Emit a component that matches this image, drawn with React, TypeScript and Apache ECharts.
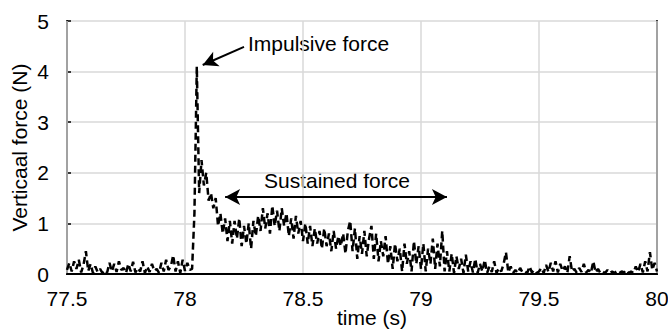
import React, { useEffect, useRef } from "react";
import * as echarts from "echarts";

const startTime = 77.5;
const timeStep = 0.01;

const baselineBefore = [
  0.08, 0.22, 0.05, 0.25, 0.1, 0.28, 0.03, 0.18, 0.45, 0.06,
  0.2, 0.02, 0.15, 0.04, 0.1, 0.02, 0.08, 0.03, 0.22, 0.05,
  0.2, 0.04, 0.25, 0.08, 0.12, 0.02, 0.2, 0.05, 0.24, 0.03,
  0.12, 0.05, 0.25, 0.02, 0.15, 0.04, 0.2, 0.06, 0.1, 0.02,
  0.22, 0.05, 0.28, 0.08, 0.15, 0.37, 0.05, 0.25, 0.02, 0.28,
  0.06, 0.22, 0.08, 0.1,
];

const impulseValues = [
  1.2, 4.1, 1.6, 2.25, 1.75, 2.0, 1.45, 1.6, 1.3, 1.5,
  0.95, 1.2, 0.8, 1.1, 0.65, 1.05,
];

const sustainedValues = [
  0.6, 1.05, 0.7, 1.1, 0.55, 0.95, 0.6, 1.0, 0.5, 1.05,
  0.75, 1.15, 0.85, 1.3, 0.9, 1.2, 0.8, 1.35, 0.95, 1.25,
  0.85, 1.3, 0.95, 1.2, 0.75, 1.1, 0.7, 1.15, 0.8, 1.05,
  0.65, 1.0, 0.6, 0.95, 0.55, 0.9, 0.6, 0.85, 0.5, 0.9,
  0.55, 0.8, 0.45, 0.85, 0.5, 0.75, 0.55, 0.8, 0.4, 0.85,
  1.05, 0.45, 0.9, 0.3, 0.75, 0.4, 0.85, 0.35, 0.7, 0.95,
  0.3, 0.8, 0.25, 0.65, 0.35, 0.75, 0.2, 0.55, 0.1, 0.6,
  0.25, 0.5, 0.05, 0.6, 0.2, 0.45, 0.05, 0.65, 0.2, 0.55,
  0.1, 0.6, 0.05, 0.5, 0.2, 0.7, 0.1, 0.6, 0.15, 0.85,
];

const baselineAfter = [
  0.05, 0.45, 0.05, 0.4, 0.02, 0.35, 0.1, 0.3, 0.02, 0.38,
  0.05, 0.25, 0.03, 0.3, 0.02, 0.2, 0.05, 0.28, 0.02, 0.15,
  0.04, 0.25, 0.02, 0.12, 0.05, 0.2, 0.43, 0.03, 0.15, 0.02,
  0.08, 0.02, 0.12, 0.03, 0.05, 0.02, 0.15, 0.03, 0.08, 0.02,
  0.05, 0.12, 0.02, 0.18, 0.04, 0.22, 0.05, 0.25, 0.03, 0.2,
  0.06, 0.15, 0.02, 0.35, 0.05, 0.1, 0.02, 0.12, 0.04, 0.2,
  0.03, 0.08, 0.02, 0.25, 0.03, 0.1, 0.02, 0.05, 0.02, 0.08,
  0.02, 0.05, 0.02, 0.06, 0.02, 0.05, 0.03, 0.08, 0.02, 0.05,
  0.02, 0.15, 0.04, 0.2, 0.03, 0.25, 0.05, 0.43, 0.08, 0.22,
  0.05,
];

const forceValues = [...baselineBefore, ...impulseValues, ...sustainedValues, ...baselineAfter];

const xTicks = { min: 77.5, max: 80, interval: 0.5 };
const yTicks = { min: 0, max: 5, interval: 1 };

const impulsiveArrow = { from: [78.25, 4.49], to: [78.075, 4.13] };
const sustainedArrow = { from: [78.17, 1.52], to: [79.11, 1.52] };

const FONT = "'Liberation Sans', Arial, Helvetica, sans-serif";
const FS = 21;

export default function App() {
  const ref = useRef<HTMLDivElement>(null);
  useEffect(() => {
    document.body.style.margin = "0";
    if (!ref.current) return;
    const chart = echarts.init(ref.current, null, { renderer: "svg" });
    const data = forceValues.map((v, i) => [
      Math.round((startTime + i * timeStep) * 1000) / 1000,
      v,
    ]);
    const frameAxis = {
      type: "value",
      axisLine: { show: true, lineStyle: { color: "#000", width: 2 } },
      axisTick: { show: false },
      axisLabel: { show: false },
      splitLine: { show: false },
    };
    chart.setOption({
      animation: false,
      grid: {
        left: 67,
        right: 11,
        top: 21,
        bottom: 55,
        outerBoundsMode: "none",
        containLabel: false,
      },
      xAxis: [
        {
          type: "value",
          min: xTicks.min,
          max: xTicks.max,
          interval: xTicks.interval,
          name: "time (s)",
          nameLocation: "middle",
          nameGap: 33,
          nameMoveOverlap: false,
          nameTextStyle: {
            fontFamily: FONT,
            fontSize: FS,
            color: "#000",
            padding: [0, 0, 0, 20],
          },
          axisLine: { show: true, lineStyle: { color: "#000", width: 2 } },
          axisTick: { show: false },
          axisLabel: { fontFamily: FONT, fontSize: FS, color: "#000", margin: 14 },
          splitLine: { show: true, lineStyle: { color: "#d9d9d9", width: 1.5 } },
          z: 2,
        },
        { ...frameAxis, position: "top", min: xTicks.min, max: xTicks.max, interval: xTicks.interval },
      ],
      yAxis: [
        {
          type: "value",
          min: yTicks.min,
          max: yTicks.max,
          interval: yTicks.interval,
          name: "Verticaal force (N)",
          nameLocation: "middle",
          nameGap: 37,
          nameMoveOverlap: false,
          nameTextStyle: { fontFamily: FONT, fontSize: FS, color: "#000" },
          axisLine: { show: true, lineStyle: { color: "#000", width: 2 } },
          axisTick: { show: true, inside: true, length: 4, lineStyle: { color: "#000", width: 1.5 } },
          axisLabel: { fontFamily: FONT, fontSize: FS, color: "#000", margin: 18 },
          splitLine: { show: true, lineStyle: { color: "#d9d9d9", width: 1.5 } },
        },
        { ...frameAxis, position: "right", min: yTicks.min, max: yTicks.max, interval: yTicks.interval },
      ],
      series: [
        {
          type: "line",
          xAxisIndex: 0,
          yAxisIndex: 0,
          data,
          showSymbol: false,
          symbol: "none",
          lineStyle: { color: "#000", width: 2.5, type: [7, 4] },
          z: 3,
          markLine: {
            silent: true,
            animation: false,
            label: { show: false },
            lineStyle: { color: "#000", width: 2, type: "solid" },
            symbolSize: [12, 15],
            data: [
              [
                { coord: impulsiveArrow.from, symbol: "none" },
                { coord: impulsiveArrow.to, symbol: "arrow" },
              ],
              [
                { coord: sustainedArrow.from, symbol: "arrow" },
                { coord: sustainedArrow.to, symbol: "arrow" },
              ],
            ],
          },
        },
      ],
      graphic: [
        {
          type: "text",
          left: 248,
          top: 33,
          style: { text: "Impulsive force", font: `${FS}px ${FONT}`, fill: "#000" },
        },
        {
          type: "text",
          left: 264,
          top: 170,
          style: { text: "Sustained force", font: `${FS}px ${FONT}`, fill: "#000" },
        },
      ],
    });
    return () => chart.dispose();
  }, []);
  return <div ref={ref} style={{ width: 668, height: 329 }} />;
}
